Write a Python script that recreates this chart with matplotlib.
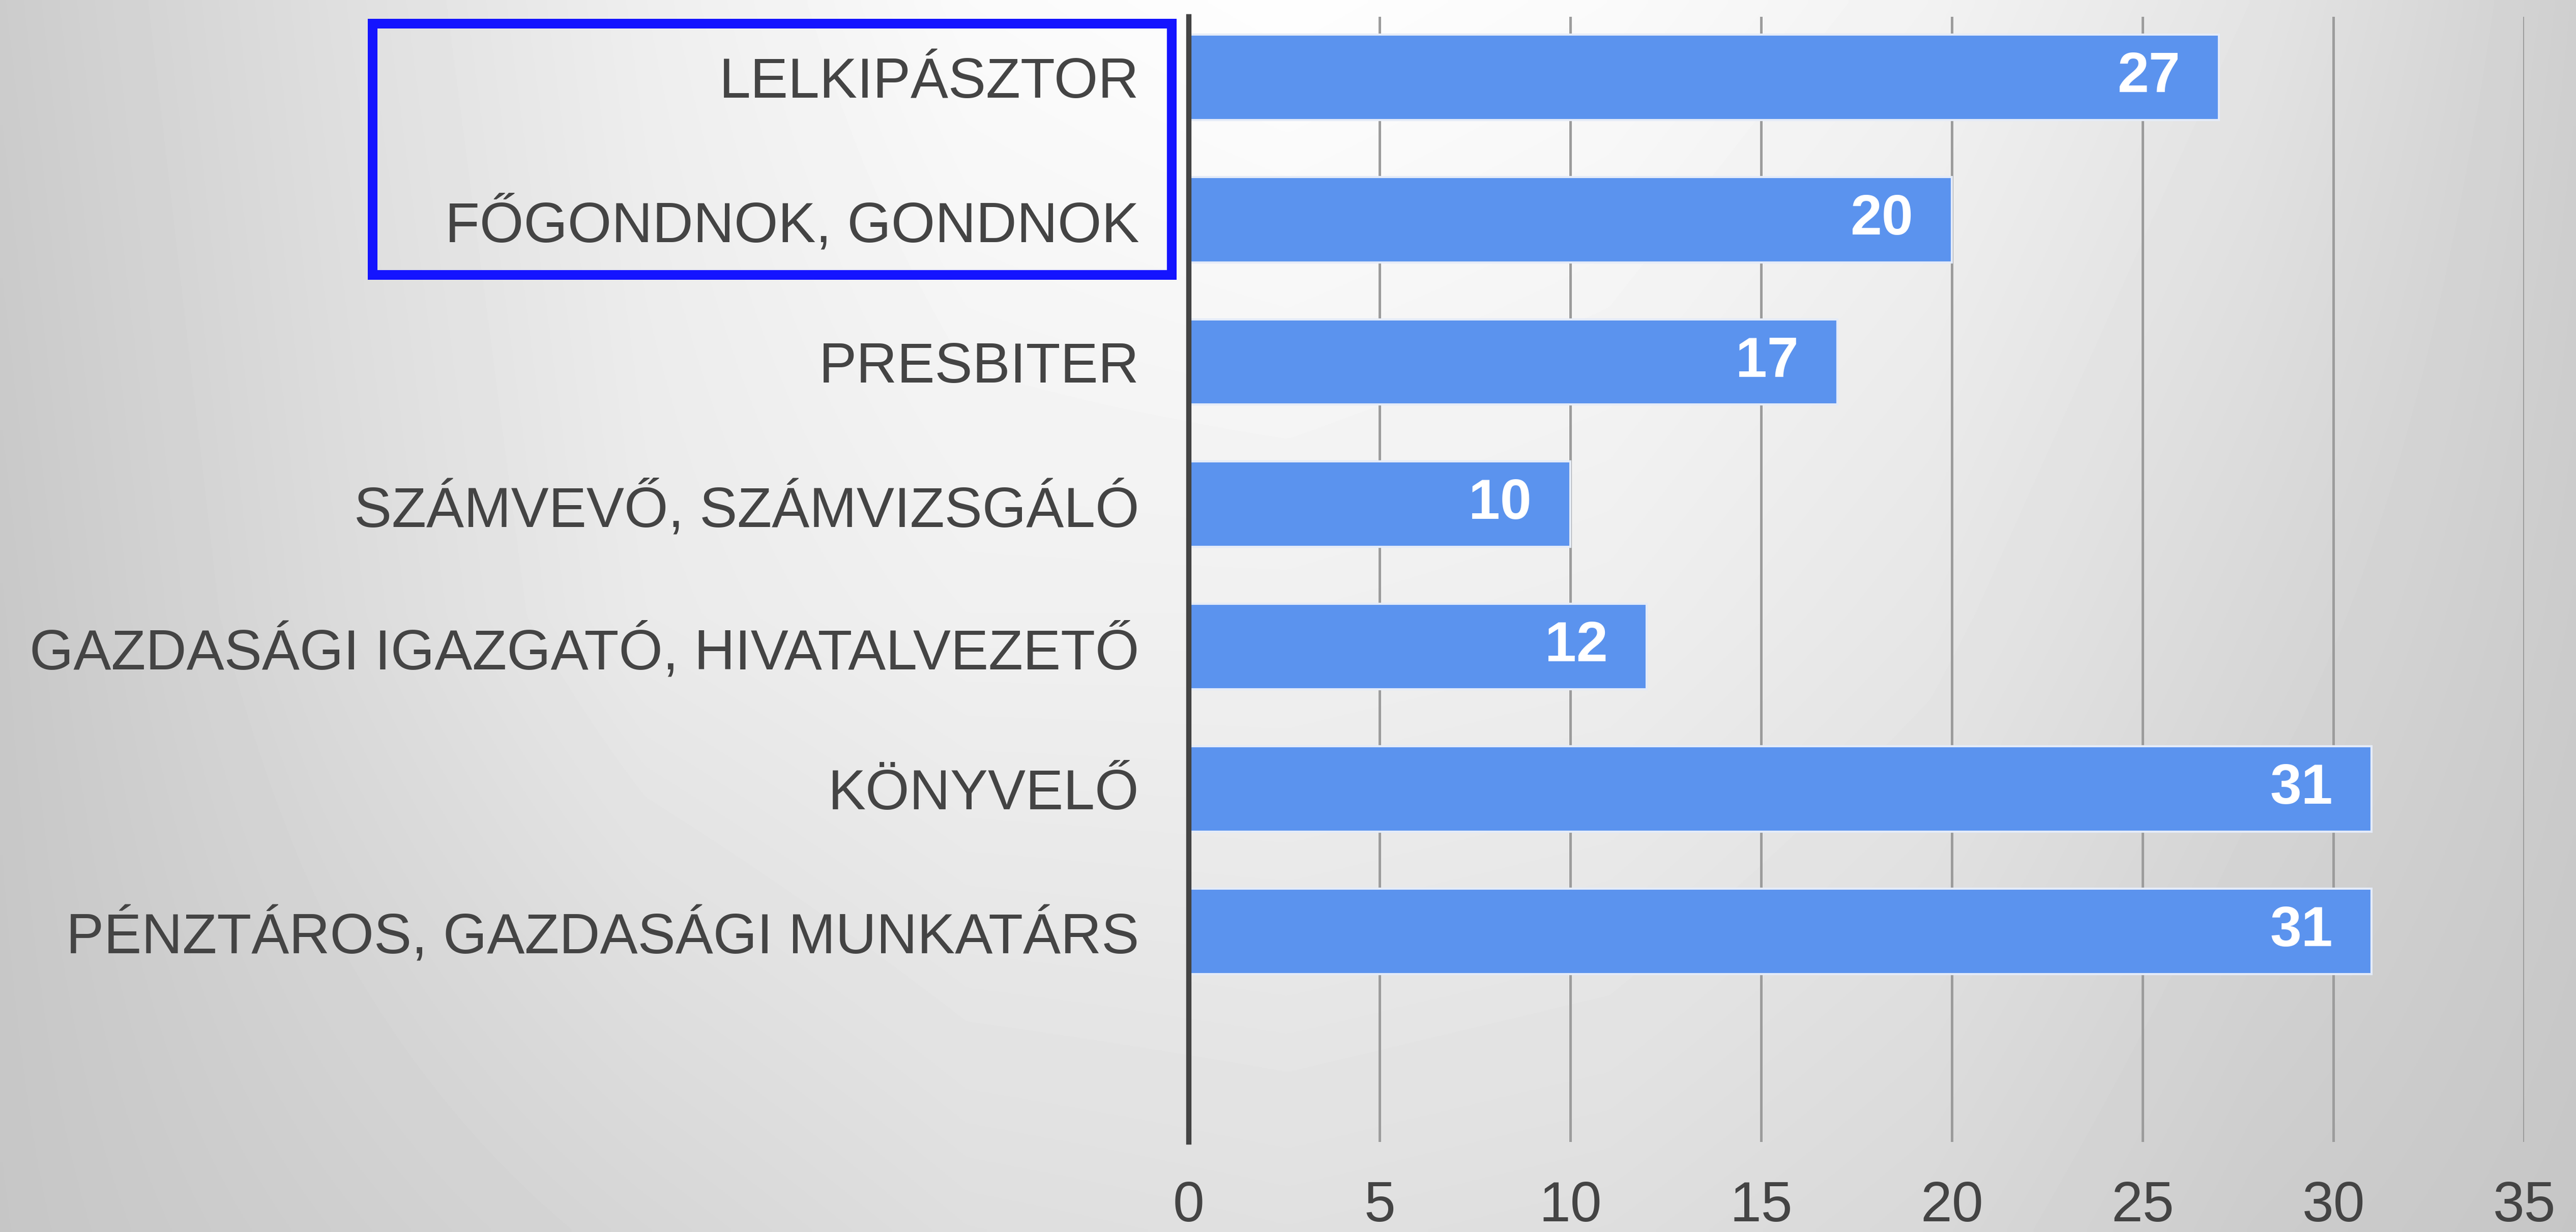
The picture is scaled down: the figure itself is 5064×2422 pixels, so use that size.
import numpy as np
import matplotlib
matplotlib.use("Agg")
import matplotlib.pyplot as plt
from matplotlib.patches import Rectangle

plt.rcParams['font.family'] = ['Liberation Sans', 'DejaVu Sans']

# adatok (felülről lefelé)
categories = [
    "LELKIPÁSZTOR",
    "FŐGONDNOK, GONDNOK",
    "PRESBITER",
    "SZÁMVEVŐ, SZÁMVIZSGÁLÓ",
    "GAZDASÁGI IGAZGATÓ, HIVATALVEZETŐ",
    "KÖNYVELŐ",
    "PÉNZTÁROS, GAZDASÁGI MUNKATÁRS",
]
values = [27, 20, 17, 10, 12, 31, 31]
x_ticks = [0, 5, 10, 15, 20, 25, 30, 35]

# háttér színátmenet (szürke szintek, 3 sor x 9 oszlop)
bg_top = [204, 222, 238, 250, 254, 250, 242, 228, 207]
bg_mid = [200, 218, 234, 240, 240, 238, 230, 216, 203]
bg_bot = [198, 206, 214, 222, 224, 222, 216, 204, 198]

fig = plt.figure(figsize=(50.64, 24.22), dpi=100)

# háttér
grid = np.array([bg_top, bg_mid, bg_bot], dtype=float)
xs = np.linspace(0, 1, grid.shape[1])
ys = np.linspace(0, 1, grid.shape[0])
xf = np.linspace(0, 1, 500)
yf = np.linspace(0, 1, 240)
rows = np.array([np.interp(xf, xs, r) for r in grid])
img = np.array([np.interp(yf, ys, rows[:, j]) for j in range(len(xf))]).T
bg = fig.add_axes([0, 0, 1, 1], zorder=-1)
bg.imshow(img, cmap='gray', vmin=0, vmax=255, aspect='auto',
          extent=[0, 1, 0, 1], interpolation='bilinear')
bg.axis('off')

ax = fig.add_axes([0.4615, 0.0731, 0.5184, 0.9133])
ax.set_facecolor('none')

y = np.arange(len(categories))
ax.barh(y, values, height=0.6, color='#5b93ee', edgecolor='#e4ebf8',
        linewidth=3, zorder=3)

for yi, v in zip(y, values):
    ax.annotate(str(v), xy=(v, yi), xytext=(-55, 0), textcoords='offset points',
                ha='right', va='center', color='white', fontsize=80,
                fontweight='bold', zorder=4)

ax.set_xlim(0, 35)
ax.set_ylim(7.48, -0.425)
ax.set_xticks(x_ticks)
ax.set_yticks(y)
ax.set_yticklabels(categories)
ax.tick_params(axis='both', length=0, labelsize=80, colors='#444444')
ax.tick_params(axis='y', pad=70)
ax.tick_params(axis='x', pad=54)

ax.grid(axis='x', color='#9c9c9c', linewidth=3.6, zorder=1)
ax.set_axisbelow(True)
for s in ['top', 'right', 'bottom']:
    ax.spines[s].set_visible(False)
ax.spines['left'].set_color('#444444')
ax.spines['left'].set_linewidth(7.5)
ax.spines['left'].set_zorder(5)

# kék keret a felső két címke körül
fig.patches.append(Rectangle((0.1446, 0.777), 0.3102, 0.204, fill=False,
                             edgecolor='#1414ff', linewidth=13.7,
                             transform=fig.transFigure, zorder=10))

fig.savefig('out.png', dpi=100)
